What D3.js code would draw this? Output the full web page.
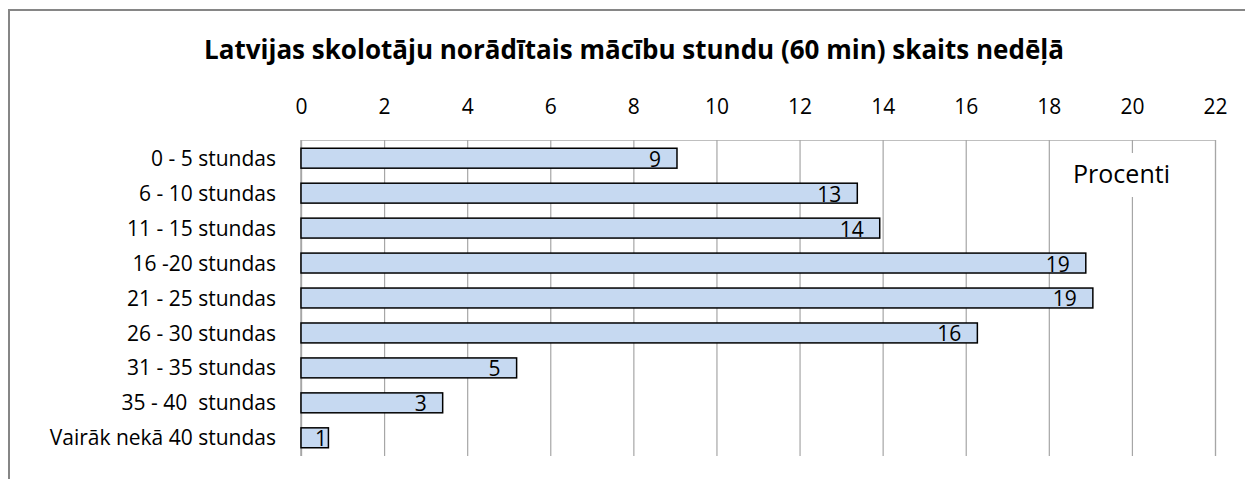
<!DOCTYPE html>
<html>
<head>
<meta charset="utf-8">
<script src="https://cdn.jsdelivr.net/npm/d3@7"></script>
<style>
  body { margin: 0; background: #fff; }
  svg { display: block; font-family: "Open Sans", "Noto Sans", sans-serif; }
</style>
</head>
<body>
<div id="chart"></div>
<script>
var title = "Latvijas skolotāju norādītais mācību stundu (60 min) skaits nedēļā";
var categories = [
    "0 - 5 stundas",
    "6 - 10 stundas",
    "11 - 15 stundas",
    "16 -20 stundas",
    "21 - 25 stundas",
    "26 - 30 stundas",
    "31 - 35 stundas",
    "35 - 40  stundas",
    "Vairāk nekā 40 stundas"
];
var percents = [9.05, 13.39, 13.93, 18.89, 19.06, 16.28, 5.19, 3.41, 0.66];
var xTicks = [0, 2, 4, 6, 8, 10, 12, 14, 16, 18, 20, 22];
var unitLabel = "Procenti";

var W = 1245, H = 479;
var margin = {top: 140, right: 30, bottom: 23, left: 301};
var width = W - margin.left - margin.right;
var height = H - margin.top - margin.bottom;

var svg = d3.select("#chart")
    .append("svg")
    .attr("width", W)
    .attr("height", H);

// outer chart frame (right and bottom edges fall outside the picture)
svg.append("rect")
    .attr("x", 9)
    .attr("y", 10)
    .attr("width", W + 20)
    .attr("height", H + 20)
    .attr("fill", "none")
    .attr("stroke", "#868686")
    .attr("stroke-width", 2);

svg.append("text")
    .attr("x", 634)
    .attr("y", 59)
    .attr("text-anchor", "middle")
    .style("font-size", "26px")
    .style("font-weight", "bold")
    .text(title);

var g = svg.append("g")
    .attr("transform", "translate(" + margin.left + "," + margin.top + ")");

var x = d3.scaleLinear()
    .domain([0, 22])
    .range([0, width]);

var y = d3.scaleBand()
    .domain(categories)
    .range([0, height])
    .paddingInner(0.43)
    .paddingOuter(0.236);

// gridlines
g.append("g")
    .attr("class", "grid")
    .call(d3.axisTop(x).tickValues(xTicks).tickSize(-height).tickFormat(""))
    .call(function(s) {
        s.select(".domain").attr("stroke", "#bfbfbf").attr("stroke-width", 1.2);
        s.selectAll(".tick line").attr("stroke", "#a6a6a6").attr("stroke-width", 1.2);
    });

// tick labels on top
g.append("g")
    .call(d3.axisTop(x).tickValues(xTicks).tickSize(0).tickPadding(26))
    .call(function(s) {
        s.select(".domain").remove();
        s.selectAll("text")
            .style("font-family", "Open Sans")
            .style("font-size", "21px")
            .attr("fill", "#000");
    });

// left axis line
g.append("line")
    .attr("x1", x(0)).attr("x2", x(0))
    .attr("y1", 0).attr("y2", height)
    .attr("stroke", "#a6a6a6")
    .attr("stroke-width", 1.5);

// category labels
g.selectAll(".cat")
    .data(categories)
    .enter().append("text")
    .attr("class", "cat")
    .attr("x", -25)
    .attr("y", function(d) { return y(d) + y.bandwidth() / 2; })
    .attr("dy", ".36em")
    .attr("text-anchor", "end")
    .style("font-size", "21px")
    .style("white-space", "pre")
    .text(function(d) { return d; });

// bars
g.selectAll(".bar")
    .data(percents)
    .enter().append("rect")
    .attr("class", "bar")
    .attr("x", x(0))
    .attr("y", function(d, i) { return y(categories[i]); })
    .attr("width", function(d) { return x(d) - x(0); })
    .attr("height", y.bandwidth())
    .attr("fill", "#c6d9f1")
    .attr("stroke", "#000")
    .attr("stroke-width", 1.5);

// value labels, inside end
g.selectAll(".val")
    .data(percents)
    .enter().append("text")
    .attr("class", "val")
    .attr("x", function(d) { return Math.max(x(d) - 16, x(0) + 26); })
    .attr("y", function(d, i) { return y(categories[i]) + y.bandwidth() - 1.5; })
    .attr("text-anchor", "end")
    .style("font-size", "21px")
    .text(function(d) { return d3.format(".0f")(d); });

// axis unit label with white backing box
var unitG = g.append("g");
var unitText = unitG.append("text")
    .attr("x", x(19.75))
    .attr("y", 43)
    .attr("text-anchor", "middle")
    .style("font-size", "25px")
    .text(unitLabel);
var bb = unitText.node().getBBox();
unitG.insert("rect", "text")
    .attr("x", bb.x - 6)
    .attr("y", 13)
    .attr("width", bb.width + 12)
    .attr("height", 44)
    .attr("fill", "#fff");
</script>
</body>
</html>
